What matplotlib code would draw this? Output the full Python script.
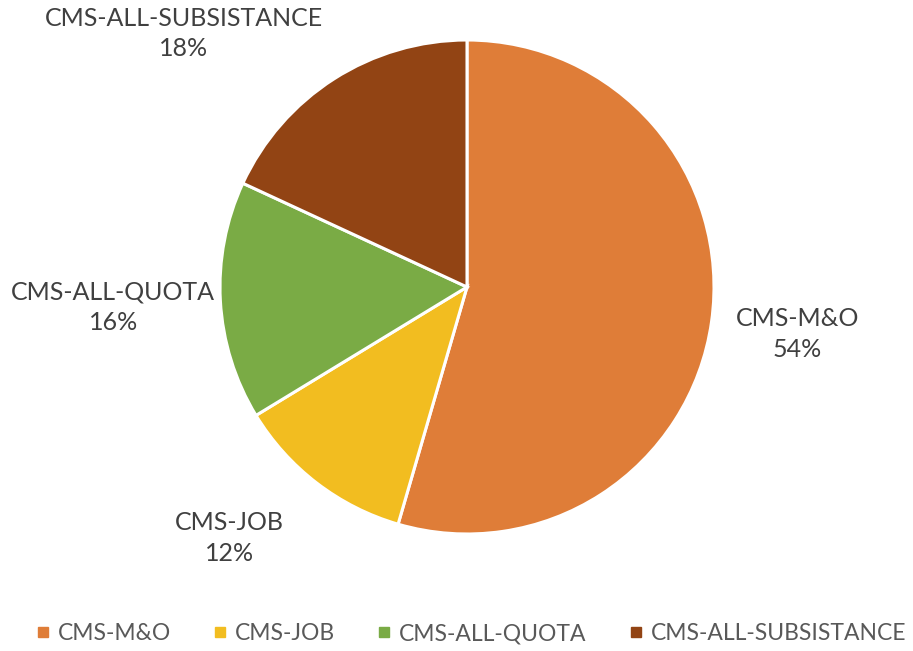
import numpy as np
import matplotlib.pyplot as plt
from matplotlib.lines import Line2D

# data
labels = ['CMS-M&O', 'CMS-JOB', 'CMS-ALL-QUOTA', 'CMS-ALL-SUBSISTANCE']
shares = [54.5, 11.8, 15.6, 18.1]
colors = ['#DF7D38', '#F2BD20', '#7AAB45', '#924414']
pct_text = ['54%', '12%', '16%', '18%']
label_dist = [1.35, 1.40, 1.435, 1.54]
label_shift = [0, -6, 0, 15.6]  # degrees, to mimic the label placement

W, H = 913, 651
cx, cy, r = 467, 287, 247

fig = plt.figure(figsize=(W / 100, H / 100), dpi=100)
ax = fig.add_axes([0, 0, 1, 1])

wedges, _ = ax.pie(shares, colors=colors, startangle=90, counterclock=False,
                   radius=1, wedgeprops=dict(edgecolor='white', linewidth=2.2))

ax.set_xlim(-cx / r, (W - cx) / r)
ax.set_ylim(-(H - cy) / r, cy / r)
ax.set_aspect('auto')
ax.axis('off')

font = 'Lato'
txt_color = '#404040'

for w, lab, pct, d, s in zip(wedges, labels, pct_text, label_dist, label_shift):
    ang = np.deg2rad((w.theta1 + w.theta2) / 2 + s)
    ax.text(d * np.cos(ang), d * np.sin(ang), lab + '\n' + pct,
            ha='center', va='center', fontsize=18, family=font,
            color=txt_color, linespacing=1.38)

handles = [Line2D([], [], marker='s', linestyle='', markersize=7,
                  markerfacecolor=c, markeredgecolor=c) for c in colors]
fig.legend(handles, labels, loc='center', bbox_to_anchor=(470 / W, 1 - 634 / H),
           ncol=4, frameon=False, handletextpad=0.25, columnspacing=1.75,
           handlelength=0.8, prop=dict(family=font, size=16.5),
           labelcolor='#595959')

fig.savefig('out.png', dpi=100)
